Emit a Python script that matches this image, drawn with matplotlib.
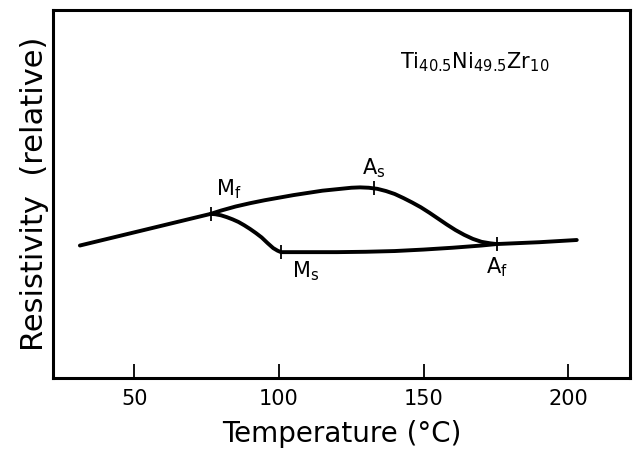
import matplotlib
matplotlib.use("Agg")
import matplotlib.pyplot as plt

# Upper path (through Mf -> As -> Af)
upper_T = [31.2, 76.4, 80, 85, 90, 95, 100, 105, 110, 115, 120, 125, 128, 131,
           134, 137, 140, 143, 146, 149, 152, 155, 158, 161, 164, 167, 170,
           173, 175.2, 190, 202.9]
upper_R = [0.360, 0.446, 0.455, 0.466, 0.475, 0.483, 0.490, 0.497, 0.503, 0.509,
           0.513, 0.517, 0.518, 0.517, 0.514, 0.508, 0.500, 0.489, 0.477, 0.464,
           0.449, 0.433, 0.417, 0.402, 0.389, 0.378, 0.370, 0.366, 0.364,
           0.369, 0.375]

# Lower branch (Mf -> Ms -> Af)
lower_T = [76.4, 78, 80, 82, 84, 86, 88, 90, 92, 94, 96, 98, 99.5, 100.7,
           110, 120, 130, 140, 150, 160, 170, 175.2]
lower_R = [0.446, 0.445, 0.442, 0.437, 0.431, 0.424, 0.415, 0.405, 0.394, 0.382,
           0.367, 0.353, 0.346, 0.342, 0.342, 0.342, 0.343, 0.345, 0.349, 0.354,
           0.360, 0.364]

# Transformation points
pt_labels = [r"$\mathrm{M_f}$", r"$\mathrm{M_s}$", r"$\mathrm{A_s}$", r"$\mathrm{A_f}$"]
pt_T = [76.4, 100.7, 132.8, 175.2]
pt_R = [0.446, 0.342, 0.517, 0.364]

xticks = [50, 100, 150, 200]

fig = plt.figure(figsize=(6.35, 4.5), dpi=100)
ax = fig.add_axes([52.7/635, 1 - 378/450, (630 - 52.7)/635, (378 - 10)/450])

ax.plot(upper_T, upper_R, color="black", lw=2.8, solid_capstyle="round", solid_joinstyle="round")
ax.plot(lower_T, lower_R, color="black", lw=2.8, solid_capstyle="round", solid_joinstyle="round")
ax.plot(pt_T, pt_R, linestyle="none", marker="|", markersize=10, markeredgewidth=1.3, color="black")

# label offsets in points (dx, dy)
offs = [(13, 18), (18, -14), (0, 14), (0, -17)]
for lab, t, r, (dx, dy) in zip(pt_labels, pt_T, pt_R, offs):
    ax.annotate(lab, (t, r), xytext=(dx, dy), textcoords="offset points",
                ha="center", va="center", fontsize=15)

fig.text(475/635, 1 - 62/450, r"$\mathrm{Ti_{40.5}Ni_{49.5}Zr_{10}}$",
         ha="center", va="center", fontsize=15)

ax.set_xlim(21.8, 221.3)
ax.set_ylim(0, 1)
ax.set_xticks(xticks)
ax.set_xticklabels([str(v) for v in xticks])
ax.set_yticks([])
ax.tick_params(axis="x", direction="in", length=10, width=1.3, labelsize=15, pad=8)
for s in ax.spines.values():
    s.set_linewidth(2.2)

ax.set_xlabel("Temperature (°C)", fontsize=20, labelpad=8)
ax.set_ylabel("Resistivity  (relative)", fontsize=22, labelpad=3)

fig.savefig("out.png", dpi=100)
